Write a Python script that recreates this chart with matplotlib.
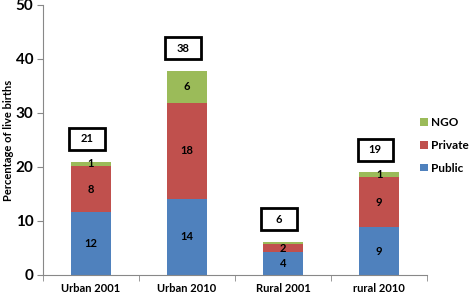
import matplotlib
matplotlib.use("Agg")
import matplotlib.pyplot as plt
from matplotlib.patches import Rectangle
import numpy as np

categories = ["Urban 2001", "Urban 2010", "Rural 2001", "rural 2010"]
public = [11.7, 14.1, 4.2, 8.8]
private = [8.4, 17.8, 1.5, 9.4]
ngo = [0.9, 5.9, 0.4, 0.8]
public_labels = ["12", "14", "4", "9"]
private_labels = ["8", "18", "2", "9"]
ngo_labels = ["1", "6", "", "1"]
totals = ["21", "38", "6", "19"]

plt.rcParams['font.family'] = ['Lato', 'DejaVu Sans']
fig = plt.figure(figsize=(4.73, 2.94), dpi=100)
ax = fig.add_axes([0.091, 0.065, 0.812, 0.918])

x = np.arange(len(categories))
w = 0.41
c_pub, c_pri, c_ngo = "#4F81BD", "#C0504D", "#9BBB59"
b1 = ax.bar(x, public, w, color=c_pub, label="Public")
b2 = ax.bar(x, private, w, bottom=public, color=c_pri, label="Private")
bot2 = np.array(public) + np.array(private)
b3 = ax.bar(x, ngo, w, bottom=bot2, color=c_ngo, label="NGO")
top = bot2 + np.array(ngo)

fs = 8
for i in range(len(categories)):
    ax.text(x[i], public[i] / 2, public_labels[i], ha="center", va="center",
            fontsize=fs, fontweight="bold")
    ax.text(x[i], public[i] + private[i] / 2, private_labels[i], ha="center", va="center",
            fontsize=fs, fontweight="bold")
    if ngo_labels[i]:
        ax.text(x[i], bot2[i] + ngo[i] / 2, ngo_labels[i], ha="center", va="center",
                fontsize=fs, fontweight="bold")
    cx, cy = x[i] - 0.04, top[i] + 4.2
    bw, bh = 0.37, 4.1
    ax.add_patch(Rectangle((cx - bw / 2, cy - bh / 2), bw, bh, fc="white",
                           ec="black", lw=2.0, clip_on=False, zorder=3))
    ax.text(cx, cy, totals[i], ha="center", va="center", fontsize=fs,
            fontweight="bold", zorder=4)

ax.set_xlim(-0.5, 3.5)
ax.set_ylim(0, 50)
ax.set_yticks(np.arange(0, 51, 10))
ax.set_xticks(x)
ax.set_xticklabels(categories, fontsize=8, fontweight="bold")
ax.set_xticks(np.arange(-0.5, 3.6, 1), minor=True)
ax.tick_params(axis="x", which="major", length=0, pad=6)
ax.tick_params(axis="x", which="minor", length=4, color="#888888", direction="out")
ax.tick_params(axis="y", labelsize=11, length=4, color="#888888", direction="out", pad=3)
for lab in ax.get_yticklabels():
    lab.set_fontweight("bold")
for s in ["top", "right"]:
    ax.spines[s].set_visible(False)
for s in ["left", "bottom"]:
    ax.spines[s].set_color("#888888")
ax.set_ylabel("Percentage of live births", fontsize=8, fontweight="bold", labelpad=1)

handles = [b3, b2, b1]
ax.legend(handles, ["NGO", "Private", "Public"], loc="center left",
          bbox_to_anchor=(0.982, 0.48), frameon=False,
          handlelength=0.65, handleheight=0.65, labelspacing=1.0, handletextpad=0.3,
          borderaxespad=0, borderpad=0, prop={"weight": "bold", "size": 8.5})

fig.savefig("out.png", dpi=100)
